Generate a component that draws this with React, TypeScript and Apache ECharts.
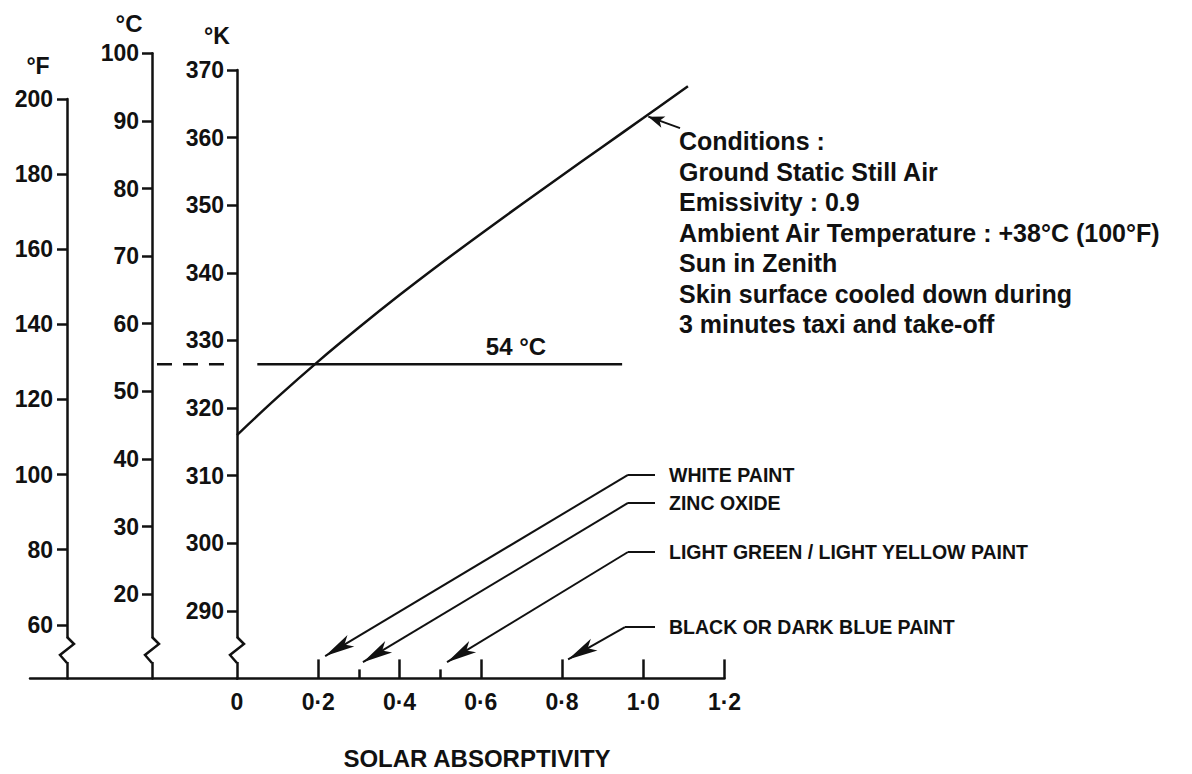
import React, { useEffect, useRef } from "react";
import * as echarts from "echarts";

// ---- Data ----
const absorptivity = [0, 0.1, 0.2, 0.3, 0.4, 0.5, 0.6, 0.7, 0.8, 0.9, 1.0, 1.11];
const skinTempK = [316.0, 321.6, 326.9, 331.9, 336.7, 341.3, 345.75, 350.1, 354.4, 358.65, 362.9, 367.6];

const limitTempC = 54;
const limitLineX = [0.05, 0.948];
const limitDashX = [-0.197, -0.01];

const xTickLabels = [0, 0.2, 0.4, 0.6, 0.8, 1.0, 1.2];
const xMajorTicks = [0.2, 0.4, 0.6, 0.8, 1.0, 1.2];
const xMinorTicks = [0.3, 0.5];
const kTicks = [290, 300, 310, 320, 330, 340, 350, 360, 370];
const cTicks = [20, 30, 40, 50, 60, 70, 80, 90, 100];
const fTicks = [60, 80, 100, 120, 140, 160, 180, 200];

const paintNames = [
  "WHITE PAINT",
  "ZINC OXIDE",
  "LIGHT GREEN / LIGHT YELLOW PAINT",
  "BLACK OR DARK BLUE PAINT",
];
const paintArrowTipX = [0.217, 0.31, 0.517, 0.815];
const paintArrowTipK = [283.3, 282.4, 282.4, 282.8];
const paintLabelK = [310.1, 305.95, 298.7, 287.6];
const paintCornerX = [0.9625, 0.9625, 0.9625, 0.955];
const paintLabelLineEndX = 1.029;

const conditionsLines = [
  "Conditions :",
  "Ground Static Still Air",
  "Emissivity : 0.9",
  "Ambient Air Temperature : +38°C (100°F)",
  "Sun in Zenith",
  "Skin surface cooled down during",
  "3 minutes taxi and take-off",
];
const conditionsArrowTail = [1.0905, 361.4];
const conditionsArrowTip = [1.0125, 363.1];

// ---- Layout / style constants ----
const FONT = '"Liberation Sans", Arial, Helvetica, sans-serif';
const INK = "#111111";
const PX_PER_DEG = 6.76;
const X_PX_PER_UNIT = 406.25;
const X_ORIGIN_PX = 237;
const AXIS_LEFT_END_PX = 30;
const AXIS_BOTTOM_PX = 678.4;
const K_TOP_PX = 70;
const C_TOP_PX = 53.3;
const F_TOP_PX = 99;
const X_MIN = 0;
const X_MAX = 1.2;
const X_EXT_MIN = -(X_ORIGIN_PX - AXIS_LEFT_END_PX) / X_PX_PER_UNIT;

const K_MIN = 370 - (AXIS_BOTTOM_PX - K_TOP_PX) / PX_PER_DEG;
const C_MIN = 100 - (AXIS_BOTTOM_PX - C_TOP_PX) / PX_PER_DEG;
const C_ON_MAIN_MAX = 100 - (K_TOP_PX - C_TOP_PX) / PX_PER_DEG;
const F_MIN = 200 - (AXIS_BOTTOM_PX - F_TOP_PX) / (PX_PER_DEG / 1.8);

const axisLineStyle = { color: INK, width: 2.5 };
const tickLabel = { color: INK, fontSize: 23, fontWeight: "bold" as const, fontFamily: FONT };

function yAxisDef(gridIndex: number, min: number, max: number, ticks: number[], margin: number) {
  return {
    gridIndex,
    type: "value",
    min,
    max,
    position: "left",
    axisLine: { show: true, onZero: false, lineStyle: axisLineStyle },
    axisTick: { show: true, length: 10, customValues: ticks, lineStyle: axisLineStyle },
    axisLabel: { show: true, customValues: ticks, margin, ...tickLabel },
    splitLine: { show: false },
  };
}

export default function App() {
  const ref = useRef<HTMLDivElement | null>(null);

  useEffect(() => {
    document.body.style.margin = "0";
    if (!ref.current) return;
    const chart = echarts.init(ref.current, null, { renderer: "svg" });

    const paintMarkLines: any[] = [];
    paintNames.forEach((name, i) => {
      paintMarkLines.push([
        {
          coord: [paintCornerX[i], paintLabelK[i]],
          label: {
            show: true,
            position: "end",
            formatter: name,
            distance: 14,
            color: INK,
            fontSize: 19.5,
            fontWeight: "bold",
            fontFamily: FONT,
          },
        },
        { coord: [paintLabelLineEndX, paintLabelK[i]] },
      ]);
      paintMarkLines.push([
        { coord: [paintCornerX[i], paintLabelK[i]] },
        {
          coord: [paintArrowTipX[i], paintArrowTipK[i]],
          symbol: "arrow",
          symbolSize: [10, 30],
        },
      ]);
    });
    paintMarkLines.push([
      { coord: conditionsArrowTail },
      { coord: conditionsArrowTip, symbol: "arrow", symbolSize: [9, 16] },
    ]);

    const gridBase = { outerBoundsMode: "none", containLabel: false };
    const plotHeight = AXIS_BOTTOM_PX - K_TOP_PX;
    const option: any = {
      animation: false,
      backgroundColor: "#ffffff",
      grid: [
        { ...gridBase, left: X_ORIGIN_PX, top: K_TOP_PX, width: (X_MAX - X_MIN) * X_PX_PER_UNIT, height: plotHeight },
        { ...gridBase, left: 152, top: C_TOP_PX, width: 1, height: AXIS_BOTTOM_PX - C_TOP_PX },
        { ...gridBase, left: 67, top: F_TOP_PX, width: 1, height: AXIS_BOTTOM_PX - F_TOP_PX },
        { ...gridBase, left: AXIS_LEFT_END_PX, top: K_TOP_PX, width: X_ORIGIN_PX - AXIS_LEFT_END_PX, height: plotHeight },
      ],
      xAxis: [
        {
          gridIndex: 0,
          type: "value",
          min: X_MIN,
          max: X_MAX,
          position: "bottom",
          axisLine: { show: true, onZero: false, lineStyle: axisLineStyle },
          axisTick: { show: true, inside: true, length: 19, customValues: xMajorTicks, lineStyle: axisLineStyle },
          axisLabel: {
            show: true,
            customValues: xTickLabels,
            margin: 12,
            formatter: (v: number) => (v === 0 ? "0" : v.toFixed(1).replace(".", "·")),
            ...tickLabel,
          },
          splitLine: { show: false },
        },
        {
          gridIndex: 0,
          type: "value",
          min: X_MIN,
          max: X_MAX,
          position: "bottom",
          axisLine: { show: false, onZero: false },
          axisTick: { show: true, inside: true, length: 9, customValues: xMinorTicks, lineStyle: axisLineStyle },
          axisLabel: { show: false },
          splitLine: { show: false },
        },
        { gridIndex: 1, type: "value", min: 0, max: 1, show: false },
        { gridIndex: 2, type: "value", min: 0, max: 1, show: false },
        {
          gridIndex: 3,
          type: "value",
          min: X_EXT_MIN,
          max: 0,
          position: "bottom",
          axisLine: { show: true, onZero: false, lineStyle: axisLineStyle },
          axisTick: { show: false },
          axisLabel: { show: false },
          splitLine: { show: false },
        },
      ],
      yAxis: [
        yAxisDef(0, K_MIN, 370, kTicks, 13),
        { gridIndex: 0, type: "value", min: C_MIN, max: C_ON_MAIN_MAX, show: false, position: "right", axisLine: { onZero: false } },
        yAxisDef(1, C_MIN, 100, cTicks, 13),
        yAxisDef(2, F_MIN, 200, fTicks, 14),
        { gridIndex: 3, type: "value", min: C_MIN, max: C_ON_MAIN_MAX, show: false, position: "right", axisLine: { onZero: false } },
      ],
      series: [
        {
          name: "Skin temperature",
          type: "line",
          xAxisIndex: 0,
          yAxisIndex: 0,
          data: absorptivity.map((x, i) => [x, skinTempK[i]]),
          smooth: 0.4,
          showSymbol: false,
          symbol: "none",
          clip: false,
          lineStyle: { color: INK, width: 2.5 },
          markLine: {
            silent: true,
            symbol: ["none", "none"],
            lineStyle: { color: INK, width: 2, type: "solid" },
            label: { show: false },
            emphasis: { disabled: true },
            data: paintMarkLines,
          },
        },
        {
          name: "54C",
          type: "line",
          xAxisIndex: 0,
          yAxisIndex: 1,
          data: limitLineX.map((x) => [x, limitTempC]),
          showSymbol: false,
          symbol: "none",
          lineStyle: { color: INK, width: 2.5 },
        },
        {
          name: "54C dashed",
          type: "line",
          xAxisIndex: 4,
          yAxisIndex: 4,
          data: limitDashX.map((x) => [x, limitTempC]),
          showSymbol: false,
          symbol: "none",
          lineStyle: { color: INK, width: 2.5, type: [15, 11] },
        },
      ],
    };

    chart.setOption(option);

    // Axis breaks (zigzags) on each temperature axis near its foot
    const axisX = [
      (chart.convertToPixel({ gridIndex: 2 } as any, [0, 100]) as number[])[0],
      (chart.convertToPixel({ gridIndex: 1 } as any, [0, 50]) as number[])[0],
      (chart.convertToPixel({ gridIndex: 0 } as any, [0, 300]) as number[])[0],
    ];
    const breakTop = 637;
    const breakBottom = 663;
    const graphics: any[] = [];
    axisX.forEach((ax) => {
      graphics.push({
        type: "rect",
        z: 100,
        shape: { x: ax - 5, y: breakTop + 1, width: 10, height: breakBottom - breakTop - 2 },
        style: { fill: "#ffffff" },
      });
      graphics.push({
        type: "polyline",
        z: 101,
        shape: {
          points: [
            [ax, breakTop],
            [ax + 7, breakTop + 7],
            [ax - 7, breakTop + 18],
            [ax, breakBottom],
          ],
        },
        style: { stroke: INK, lineWidth: 2.5, fill: null },
      });
    });

    const textStyle = (text: string, x: number, y: number, size: number, align = "center", weight = "bold") => ({
      type: "text",
      z: 110,
      x,
      y,
      style: {
        text,
        fill: INK,
        font: `${weight} ${size}px ${FONT}`,
        align,
        verticalAlign: "middle",
      },
    });
    graphics.push(textStyle("°F", 38, 66, 23));
    graphics.push(textStyle("°C", 129, 23, 24));
    graphics.push(textStyle("°K", 217, 36, 23));
    graphics.push(textStyle(`${limitTempC} °C`, 516, 346, 24));
    graphics.push(textStyle("SOLAR ABSORPTIVITY", 477, 758, 24));
    graphics.push({
      type: "text",
      z: 110,
      x: 679,
      y: 126,
      style: {
        text: conditionsLines.join("\n"),
        fill: INK,
        font: `bold 25px ${FONT}`,
        lineHeight: 30.5,
        align: "left",
        verticalAlign: "top",
      },
    });

    chart.setOption({ graphic: graphics });

    return () => {
      chart.dispose();
    };
  }, []);

  return <div ref={ref} style={{ width: 1192, height: 774 }} />;
}
